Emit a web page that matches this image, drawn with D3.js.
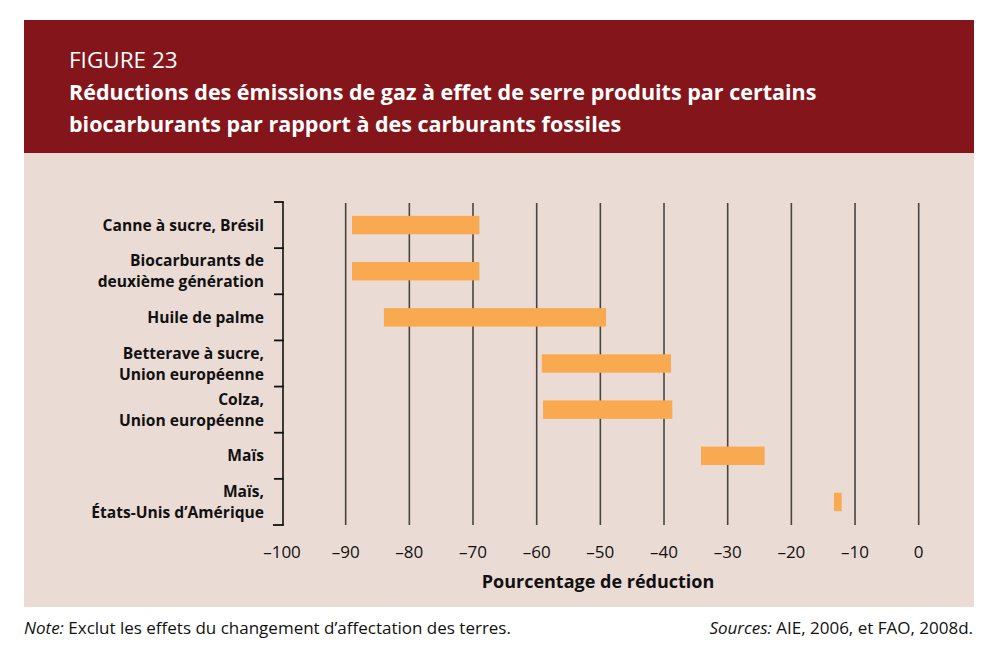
<!DOCTYPE html>
<html><head><meta charset="utf-8">
<script src="https://cdn.jsdelivr.net/npm/d3@7"></script>
<style>body{margin:0;background:#fff;}svg{display:block;}</style>
</head><body>
<svg id="c" width="993" height="653"></svg>
<script>
const categories = [
  ["Canne à sucre, Brésil"],
  ["Biocarburants de", "deuxième génération"],
  ["Huile de palme"],
  ["Betterave à sucre,", "Union européenne"],
  ["Colza,", "Union européenne"],
  ["Maïs"],
  ["Maïs,", "États-Unis d’Amérique"]
];
const lowValues  = [-89, -89, -84, -59.2, -59, -34.2, -13.3];
const highValues = [-69, -69, -49.1, -38.9, -38.7, -24.2, -12.1];
const tickValues = [-100, -90, -80, -70, -60, -50, -40, -30, -20, -10, 0];

const svg = d3.select("#c");
const FONT = "'Open Sans', 'Noto Sans', sans-serif";
const INK = "#111";

// header & panel
svg.append("rect").attr("x",24).attr("y",20).attr("width",950).attr("height",133).attr("fill","#84161b");
svg.append("rect").attr("x",24).attr("y",153).attr("width",950).attr("height",454).attr("fill","#ebdbd5");

svg.append("text").attr("x",69).attr("y",68).attr("fill","#fff").attr("font-family",FONT)
  .attr("font-size",22.5).text("FIGURE 23");
["Réductions des émissions de gaz à effet de serre produits par certains",
 "biocarburants par rapport à des carburants fossiles"].forEach((t,i)=>{
  svg.append("text").attr("x",69).attr("y",100+i*32).attr("fill","#fff").attr("font-family",FONT)
    .attr("font-weight","bold").attr("font-size",21.5).text(t);
});

const x = d3.scaleLinear().domain([-100,0]).range([282,918.7]);
const idx = categories.map((d,i)=>i);
const y = d3.scaleBand().domain(idx).range([202,525]).paddingInner(0.6).paddingOuter(0.3);
const step = y.step();

// gridlines
svg.append("g").selectAll("line").data(tickValues.filter(v=>v>-100)).join("line")
  .attr("x1",d=>x(d)).attr("x2",d=>x(d)).attr("y1",203).attr("y2",525)
  .attr("stroke","#4a4440").attr("stroke-width",1.6);

// bars
svg.append("g").selectAll("rect").data(idx).join("rect")
  .attr("x",i=>x(lowValues[i])).attr("width",i=>x(highValues[i])-x(lowValues[i]))
  .attr("y",i=>y(i)).attr("height",y.bandwidth())
  .attr("fill","#f9a94f");

// left axis
const axX = 283;
svg.append("line").attr("x1",axX).attr("x2",axX).attr("y1",202).attr("y2",525.5)
  .attr("stroke",INK).attr("stroke-width",1.6);
const bounds = d3.range(categories.length+1).map(k=>202+k*step);
svg.append("g").selectAll("line").data(bounds).join("line")
  .attr("x1",(d,k)=>k===categories.length?273:274).attr("x2",axX+0.8).attr("y1",d=>d).attr("y2",d=>d)
  .attr("stroke",INK).attr("stroke-width",1.8);

// category labels
const lab = svg.append("g").attr("font-family",FONT).attr("font-weight","bold").attr("font-size",15.6)
  .attr("fill",INK).attr("text-anchor","end");
categories.forEach((lines,i)=>{
  const cy = y(i)+y.bandwidth()/2;
  const n = lines.length, lh = 21;
  lines.forEach((t,j)=>{
    lab.append("text").attr("x",264).attr("y",cy + (j-(n-1)/2)*lh + 5.5).text(t);
  });
});

// x tick labels
svg.append("g").selectAll("text").data(tickValues).join("text")
  .attr("x",d=>x(d)).attr("y",558).attr("text-anchor","middle")
  .attr("font-family",FONT).attr("font-size",17).attr("fill",INK)
  .text(d=>d===0?"0":"–"+Math.abs(d));

svg.append("text").attr("x",598).attr("y",588).attr("text-anchor","middle")
  .attr("font-family",FONT).attr("font-weight","bold").attr("font-size",18).attr("fill",INK)
  .text("Pourcentage de réduction");

// footer
const note = svg.append("text").attr("x",24).attr("y",634).attr("font-family",FONT).attr("font-size",17).attr("fill",INK);
note.append("tspan").attr("font-style","italic").text("Note:");
note.append("tspan").text(" Exclut les effets du changement d’affectation des terres.");
const src = svg.append("text").attr("x",973).attr("y",634).attr("text-anchor","end").attr("font-family",FONT).attr("font-size",17).attr("fill",INK);
src.append("tspan").attr("font-style","italic").text("Sources:");
src.append("tspan").text(" AIE, 2006, et FAO, 2008d.");
</script>
</body></html>
